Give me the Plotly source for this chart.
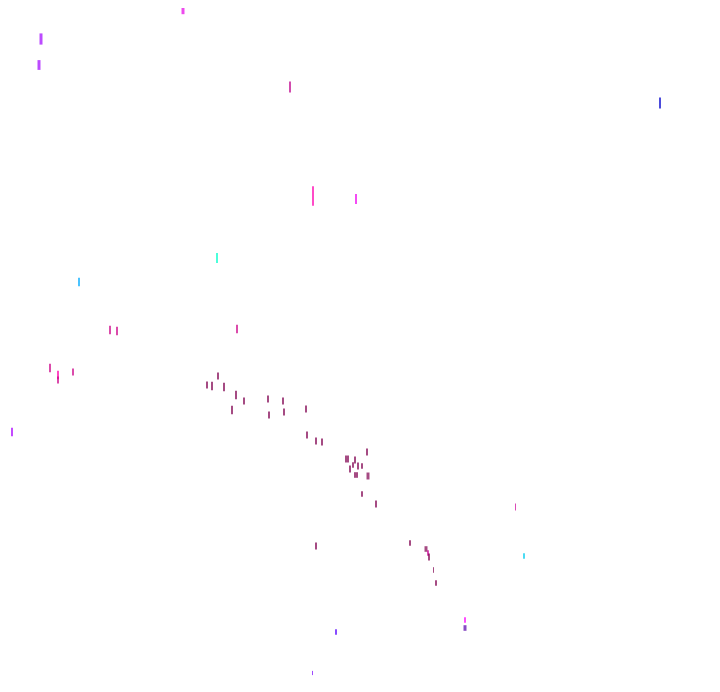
import plotly.graph_objects as go

# point positions (axis units, y grows downwards)
x_vals = [183, 41, 39, 290, 313, 356, 660, 217, 79, 110, 117, 237,
          50, 58, 58, 73, 12,
          218, 207, 212, 224, 236, 244, 232, 268, 283, 269, 284, 306,
          307, 316, 322, 367, 347, 355, 353, 358, 362, 350, 356, 368,
          362, 376, 515.5, 316, 410, 426, 428, 429, 433.5, 436, 524,
          336, 312.5, 465, 465]
y_vals = [10, 39, 65, 87, 196, 199, 103, 258, 282, 330, 331, 329,
          368, 375, 380, 372, 432,
          376, 385, 386, 387, 395, 401, 410, 399, 401, 415, 412, 409,
          435, 441, 442, 452, 459, 460, 465, 466, 466, 469, 475, 476,
          494, 504, 507, 546, 543, 549, 553, 557, 570, 583, 556,
          632, 673, 620, 628]
# mark heights and widths
heights = [6, 8, 7, 8, 14, 7, 8, 7, 6, 6, 6, 6,
           6, 6, 5, 5, 6,
           5, 5, 6, 6, 6, 5, 6, 5, 5, 5, 5, 5,
           5, 5, 5, 5, 5, 5, 4, 5, 4, 5, 4, 5,
           4, 5, 5, 5, 4, 4, 4, 5, 4, 4, 4,
           4, 3, 4, 4]
widths = [3, 3, 3, 2, 2, 2, 2, 2, 2, 2, 2, 2,
          2, 2, 2, 2, 2,
          2, 2, 2, 2, 2, 2, 2, 2, 2, 2, 2, 2,
          2, 2, 2, 2, 4, 2, 2, 2, 2, 2, 4, 3,
          2, 2, 1, 2, 2, 3, 2, 2, 1, 2, 2,
          2, 1, 2, 3]
colors = ["#e600e6", "#a000ff", "#a000ff", "#c0008c", "#ff00b0", "#f000f0",
          "#0000cc", "#00ffcc", "#00aaff", "#cc0088", "#cc0088", "#cc0088",
          "#cc0088", "#ff00aa", "#cc0088", "#cc0088", "#aa00ff"] + \
         ["#800050"] * 26 + \
         ["#cc0099", "#800050", "#800050", "#800050", "#cc0099", "#800050",
          "#800050", "#800050", "#00ccee", "#5500ff", "#7700ff", "#ff00ff",
          "#5500aa"]

fig = go.Figure(
    go.Scatter(
        x=x_vals,
        y=y_vals,
        mode="markers",
        marker=dict(
            symbol="line-ns",
            size=heights,
            color=colors,
            line=dict(color=colors, width=widths),
        ),
        cliponaxis=False,
        hoverinfo="x+y",
    )
)

# the page body adds an 8px offset, so the axes start at 8
fig.update_layout(
    width=720,
    height=692,
    margin=dict(l=0, r=0, t=0, b=0),
    paper_bgcolor="white",
    plot_bgcolor="white",
    showlegend=False,
)
fig.update_xaxes(range=[8, 728], visible=False)
fig.update_yaxes(range=[700, 8], visible=False)

fig.write_html("out.html")
